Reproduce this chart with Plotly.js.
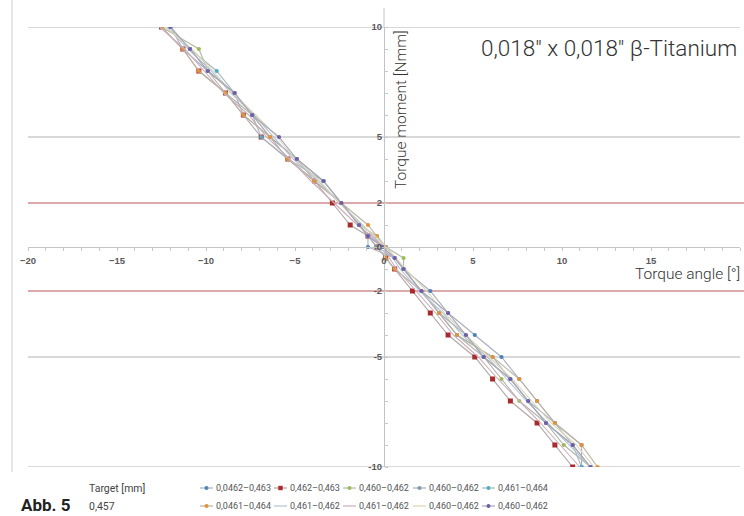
<!DOCTYPE html>
<html><head><meta charset="utf-8">
<script src="https://cdn.plot.ly/plotly-3.0.1.min.js"></script>
<style>html,body{margin:0;padding:0;background:#fff}#chart{width:744px;height:516px}</style>
</head><body><div id="chart"></div>
<script>
// ---- data ----
const torque = [10, 9, 8, 7, 6, 5, 4, 3, 2, 1, 0.5, 0, -0.5, -1, -2, -3, -4, -5, -6, -7, -8, -9, -10];
const seriesNames = ['0,0462–0,463', '0,462–0,463', '0,460–0,462', '0,460–0,462', '0,461–0,464',
                     '0,0461–0,464', '0,461–0,462', '0,461–0,462', '0,460–0,462', '0,460–0,462'];
const angle1  = [-12.0,-10.9,-9.9,-8.4,-7.4,-6.4,-4.9,-3.4,-2.4,-1.4,-0.9,-0.9,0.6,1.1,2.6,3.6,5.1,6.6,7.6,8.6,9.6,11.1,11.1];
const angle2  = [-12.5,-11.3,-10.4,-8.9,-7.9,-6.9,-5.4,-3.9,-2.9,-1.9,-0.9,-0.4,0.1,0.6,1.6,2.6,3.6,5.1,6.1,7.1,8.6,9.6,10.6];
const angle3  = [-12.5,-10.4,-9.9,-8.9,-7.4,-6.4,-5.4,-3.9,-2.4,-1.4,-0.4,0.1,1.1,1.1,2.1,3.1,4.1,5.6,6.6,7.6,9.1,10.1,11.6];
const angle4  = [-12.0,-11.3,-9.9,-8.4,-7.9,-6.4,-4.9,-3.9,-2.4,-1.4,-0.9,0.1,0.6,1.1,2.1,3.1,4.6,5.6,7.1,8.1,9.1,10.6,11.6];
const angle5  = [-12.0,-10.9,-9.4,-8.4,-7.4,-6.9,-5.4,-3.4,-2.4,-1.4,-0.9,-0.4,0.6,1.1,2.1,3.1,4.1,6.1,7.1,8.1,9.6,10.6,11.1];
const angle6  = [-12.5,-11.3,-10.4,-8.9,-7.9,-6.4,-5.4,-3.9,-2.4,-0.9,-0.4,0.1,0.1,0.6,2.1,3.1,4.1,6.1,7.6,8.6,9.6,11.1,12.0];
const angle7  = [-12.2,-11.0,-9.7,-8.6,-7.3,-6.2,-5.1,-3.7,-2.5,-1.2,-0.6,0.0,0.5,0.9,2.0,3.3,4.4,5.8,6.9,8.0,9.2,10.4,11.6];
const angle8  = [-12.6,-11.2,-10.1,-9.0,-7.6,-6.6,-5.3,-4.1,-2.8,-1.5,-0.7,0.0,0.3,0.7,1.8,2.9,3.9,5.3,6.4,7.6,8.8,9.9,11.0];
const angle9  = [-12.3,-10.8,-9.6,-8.5,-7.2,-6.0,-5.0,-3.6,-2.5,-1.3,-0.5,0.1,0.7,1.2,2.4,3.4,4.6,5.9,7.2,8.3,9.4,10.8,11.8];
const angle10 = [-12.0,-10.9,-9.9,-8.4,-7.4,-5.9,-4.9,-3.4,-2.4,-1.4,-0.9,-0.1,0.6,1.1,2.1,3.6,4.6,5.6,7.1,8.1,9.1,10.6,11.6];
const angles = [angle1, angle2, angle3, angle4, angle5, angle6, angle7, angle8, angle9, angle10];
const xTickStep = 5;
const yTickVals = [-10, -5, -2, 0, 2, 5, 10];
const gridVals = [-10, -5, 5, 10];
const limitVals = [-2, 2];
const targetLabel = 'Target [mm]';
const targetValue = '0,457';

// ---- styles ----
const lineColors = ['#a7afbd','#b3a6a6','#b2b9a8','#adadb4','#a6b7be','#bbb3a5','#b3c4d4','#cbaebc','#ddd6b4','#a9a7bb'];
const markerColors = ['#4f81bd','#a82a2a','#9bbb59','#8796aa','#4bacc6','#e3913a',null,null,null,'#6f5fa8'];
const markerSymbols = ['circle','square','circle','circle','circle','circle','circle','circle','circle','circle'];
const FONT = 'Roboto, "Liberation Sans", Arial, sans-serif';

const W = 744, H = 516, M = {l: 28, r: 4, t: 27, b: 49};
const pw = W - M.l - M.r, ph = H - M.t - M.b;
const px2x = p => (p - M.l) / pw;
const py2y = p => (H - M.b - p) / ph;

const traces = angles.map((a, i) => {
  const t = {
    type: 'scatter',
    x: a, y: torque,
    name: seriesNames[i],
    mode: markerColors[i] ? 'lines+markers' : 'lines',
    line: {color: lineColors[i], width: 1.1},
    showlegend: false,
    hoverinfo: 'skip'
  };
  if (markerColors[i]) t.marker = {color: markerColors[i], size: markerSymbols[i] === 'square' ? 5 : 4.2, symbol: markerSymbols[i]};
  return t;
});

const shapes = [];
gridVals.forEach(v => shapes.push({type: 'line', xref: 'paper', x0: 0, x1: 1, yref: 'y', y0: v, y1: v,
  line: {color: '#d9d9d9', width: 1.8}, layer: 'below'}));
limitVals.forEach(v => shapes.push({type: 'line', xref: 'paper', x0: 0, x1: 1.006, yref: 'y', y0: v, y1: v,
  line: {color: '#d08c90', width: 1.5}, layer: 'below'}));
// left frame line
shapes.push({type: 'line', xref: 'paper', yref: 'paper', x0: px2x(12), x1: px2x(12), y0: py2y(0), y1: py2y(472),
  line: {color: '#cccccc', width: 1}});
// y axis line continues a little above the top gridline
shapes.push({type: 'line', xref: 'x', yref: 'paper', x0: 0, x1: 0, y0: 1, y1: py2y(8),
  line: {color: '#c4c4c4', width: 1}});

const annotations = [];
// manual legend (two rows of five)
const legTextX = [215, 289, 358, 428, 497];
const legRowY = [488, 506];
seriesNames.forEach((n, i) => {
  const col = i % 5, row = Math.floor(i / 5);
  const tx = legTextX[col], ty = legRowY[row];
  shapes.push({type: 'line', xref: 'paper', yref: 'paper', x0: px2x(tx - 15), x1: px2x(tx - 2), y0: py2y(ty), y1: py2y(ty),
    line: {color: lineColors[i], width: 1.2}});
  if (markerColors[i]) {
    const cx = tx - 8.5, r = markerSymbols[i] === 'square' ? 2.2 : 2;
    shapes.push({type: markerSymbols[i] === 'square' ? 'rect' : 'circle', xref: 'paper', yref: 'paper',
      x0: px2x(cx - r), x1: px2x(cx + r), y0: py2y(ty + r), y1: py2y(ty - r),
      fillcolor: markerColors[i], line: {width: 0}});
  }
  annotations.push({xref: 'paper', yref: 'paper', x: px2x(tx - 1), y: py2y(ty), xanchor: 'left', yanchor: 'middle',
    text: n, showarrow: false, font: {family: FONT, size: 9, color: '#555'}});
});
annotations.push(
  {xref: 'paper', yref: 'paper', x: px2x(739), y: py2y(48), xanchor: 'right', yanchor: 'middle',
   text: '0,018″ x 0,018″ β-Titanium', showarrow: false, font: {family: FONT, size: 22.5, weight: 300, color: '#333'}},
  {xref: 'paper', yref: 'paper', x: px2x(401), y: py2y(110), xanchor: 'center', yanchor: 'middle', textangle: -90,
   text: 'Torque moment [Nmm]', showarrow: false, font: {family: FONT, size: 15.5, weight: 300, color: '#333'}},
  {xref: 'paper', yref: 'paper', x: px2x(742), y: py2y(274), xanchor: 'right', yanchor: 'middle',
   text: 'Torque angle [°]', showarrow: false, font: {family: FONT, size: 15.5, weight: 300, color: '#333'}},
  {xref: 'paper', yref: 'paper', x: px2x(19), y: py2y(505), xanchor: 'left', yanchor: 'middle',
   text: '<b>Abb. 5</b>', showarrow: false, font: {family: FONT, size: 17, color: '#222'}},
  {xref: 'paper', yref: 'paper', x: px2x(87), y: py2y(488), xanchor: 'left', yanchor: 'middle',
   text: targetLabel, showarrow: false, font: {family: FONT, size: 10.5, color: '#444'}},
  {xref: 'paper', yref: 'paper', x: px2x(87), y: py2y(506), xanchor: 'left', yanchor: 'middle',
   text: targetValue, showarrow: false, font: {family: FONT, size: 10.5, color: '#444'}}
);

const tickFont = {family: '"Liberation Sans", Arial, sans-serif', size: 9.5, weight: 'bold', color: '#5a5a5a'};
const layout = {
  width: W, height: H, margin: M,
  paper_bgcolor: '#fff', plot_bgcolor: 'rgba(0,0,0,0)',
  showlegend: false,
  xaxis: {range: [-20, 20], tickmode: 'linear', tick0: 0, dtick: xTickStep, showgrid: false, zeroline: false,
    showline: true, linecolor: '#c4c4c4', linewidth: 1, anchor: 'free', position: 0.5,
    ticks: 'outside', ticklen: 3, tickcolor: '#c4c4c4', tickfont: tickFont, ticklabelstandoff: 2,
    minor: {tickmode: 'linear', tick0: 0, dtick: 1, ticks: 'outside', ticklen: 3, tickcolor: '#c8c8c8', showgrid: false}},
  yaxis: {range: [-10, 10], tickmode: 'array', tickvals: yTickVals, ticktext: yTickVals.map(String), showgrid: false, zeroline: false,
    showline: true, linecolor: '#c4c4c4', linewidth: 1, anchor: 'free', position: 0.5,
    ticks: '', tickfont: tickFont,
    minor: {tickmode: 'linear', tick0: 0, dtick: 1, ticks: 'inside', ticklen: 3, tickcolor: '#c8c8c8', showgrid: false}},
  shapes: shapes,
  annotations: annotations
};
Plotly.newPlot('chart', traces, layout, {staticPlot: true, displayModeBar: false});
</script>
</body></html>
